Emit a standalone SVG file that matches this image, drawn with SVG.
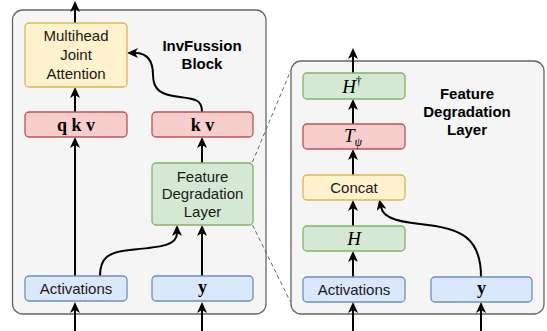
<svg xmlns="http://www.w3.org/2000/svg" width="547" height="331" viewBox="0 0 547 331">
<defs>
<marker id="ah" markerUnits="userSpaceOnUse" markerWidth="11" markerHeight="10" viewBox="0 0 11 10" refX="3" refY="5" orient="auto">
<path d="M0,0 L11,5 L0,10 L3,5 z" fill="#000"/>
</marker>
<style>
.cont{fill:#f5f5f5;stroke:#666666;stroke-width:1.3}
.yel{fill:#fff2cc;stroke:#d6b656;stroke-width:1.3}
.red{fill:#f8cecc;stroke:#b85450;stroke-width:1.3}
.grn{fill:#d5e8d4;stroke:#82b366;stroke-width:1.3}
.blu{fill:#dae8fc;stroke:#6c8ebf;stroke-width:1.3}
.t{font-family:"Liberation Sans",Arial,sans-serif;font-size:15px;fill:#1a1a1a;text-anchor:middle}
.b{font-family:"Liberation Sans",Arial,sans-serif;font-size:15px;font-weight:bold;fill:#000;text-anchor:middle}
.m{font-family:"Liberation Serif","Times New Roman",serif;font-size:18px;font-weight:bold;fill:#000;text-anchor:middle}
.mi{font-family:"Liberation Serif","Times New Roman",serif;font-size:19px;font-style:italic;fill:#000;text-anchor:middle}
.e{fill:none;stroke:#000;stroke-width:2;marker-end:url(#ah)}
.d{fill:none;stroke:#666666;stroke-width:1;stroke-dasharray:4 3}
</style>
</defs>

<g id="invfussion-block">
<rect class="cont" x="12.5" y="10" width="253.5" height="304" rx="10"/>
<text class="b" x="202" y="50.5">InvFussion</text>
<text class="b" x="202" y="68.5">Block</text>
</g>
<g id="fdl-container">
<rect class="cont" x="291" y="61" width="253" height="253" rx="10"/>
<text class="b" x="467" y="98.5">Feature</text>
<text class="b" x="467" y="116.5">Degradation</text>
<text class="b" x="467" y="134.5">Layer</text>
</g>

<g id="connectors">
<path class="d" d="M252.5,162 L290.5,71"/>
<path class="d" d="M252.5,225 L290.5,302"/>
<path class="e" d="M75,331 V310"/>
<path class="e" d="M75,276 V145"/>
<path class="e" d="M75,112 V95"/>
<path class="e" d="M75,23 V9"/>
<path class="e" d="M202,331 V310"/>
<path class="e" d="M202,276 V233"/>
<path class="e" d="M202,163 V145"/>
<path class="e" d="M202,112 C202,100 196,99 180,97 C161,95 153,90 153,75 C153,61 147,53 135,53"/>
<path class="e" d="M100,276 C100,258 108,252 130,250 C160,247 177,246 177,233"/>
<path class="e" d="M353,331 V310"/>
<path class="e" d="M353,277 V259"/>
<path class="e" d="M353,226 V208"/>
<path class="e" d="M353,175 V157"/>
<path class="e" d="M353,124 V107"/>
<path class="e" d="M353,73 V56"/>
<path class="e" d="M481,331 V310"/>
<path class="e" d="M481,277 C481,238 462,228 420,224 C392,221 383,216 381,207"/>
</g>

<g id="multihead">
<rect class="yel" x="25" y="23" width="102" height="64" rx="4"/>
<text class="t" x="76" y="40.5">Multihead</text>
<text class="t" x="76" y="59.5">Joint</text>
<text class="t" x="76" y="78.5">Attention</text>
</g>
<g id="qkv">
<rect class="red" x="25" y="112" width="102" height="25" rx="4"/>
<text class="m" x="76" y="130.5" xml:space="preserve">q k v</text>
</g>
<g id="kv">
<rect class="red" x="152" y="112" width="101" height="25" rx="4"/>
<text class="m" x="202.5" y="130.5" xml:space="preserve">k v</text>
</g>
<g id="fdl">
<rect class="grn" x="152" y="163" width="101" height="62" rx="4"/>
<text class="t" x="202.5" y="181.5">Feature</text>
<text class="t" x="202.5" y="199">Degradation</text>
<text class="t" x="202.5" y="217">Layer</text>
</g>
<g id="activations-left">
<rect class="blu" x="25" y="276" width="102" height="25" rx="4"/>
<text class="t" x="76" y="294">Activations</text>
</g>
<g id="y-left">
<rect class="blu" x="152" y="276" width="101" height="25" rx="4"/>
<text class="m" x="202.5" y="293">y</text>
</g>

<g id="hdagger">
<rect class="grn" x="303" y="73" width="102" height="26" rx="4"/>
<text class="mi" x="352" y="92.5">H<tspan font-style="normal" font-size="12" dy="-8">†</tspan></text>
</g>
<g id="tpsi">
<rect class="red" x="303" y="124" width="102" height="25" rx="4"/>
<text class="mi" x="353" y="142">T<tspan font-size="12" dy="4">ψ</tspan></text>
</g>
<g id="concat">
<rect class="yel" x="303" y="175" width="102" height="25" rx="4"/>
<text class="t" x="354" y="193">Concat</text>
</g>
<g id="h">
<rect class="grn" x="303" y="226" width="102" height="25" rx="4"/>
<text class="mi" x="354" y="244.5">H</text>
</g>
<g id="activations-right">
<rect class="blu" x="303" y="277" width="102" height="25" rx="4"/>
<text class="t" x="354" y="295">Activations</text>
</g>
<g id="y-right">
<rect class="blu" x="431" y="277" width="101" height="25" rx="4"/>
<text class="m" x="481.5" y="294">y</text>
</g>
</svg>
